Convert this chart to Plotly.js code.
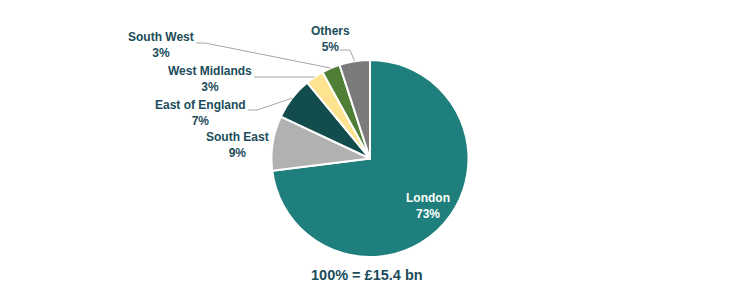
<!DOCTYPE html>
<html>
<head>
<meta charset="utf-8">
<script src="https://cdn.plot.ly/plotly-3.0.1.min.js"></script>
<style>html,body{margin:0;padding:0;background:#fff;}#chart{width:740px;height:288px;}</style>
</head>
<body>
<div id="chart"></div>
<script>
// Data
const regions = ["London", "South East", "East of England", "West Midlands", "South West", "Others"];
const shares = [73, 9, 7, 3, 3, 5];
const colors = ["#1e7f7c", "#b1b1b1", "#134c4c", "#fde28f", "#4f7f36", "#7b7b7b"];
const totalLabel = "100% = £15.4 bn";

// Layout geometry (pixels)
const W = 740, H = 288;
const M = {l: 0, r: 0, t: 60, b: 31};
const cx = (W - M.l - M.r) / 2 + M.l;
const plotH = H - M.t - M.b;
const R = plotH / 2;
const cy = M.t + R;
const px2x = x => (x - M.l) / (W - M.l - M.r);
const px2y = y => (H - M.b - y) / plotH;

const textColor = "#1b4c5a";
const font = {family: "Liberation Sans, Arial, sans-serif", size: 12, color: textColor};

// label placement (text centre, leader start, elbow) in pixels
const labelPos = {
  "London":          {x: 428, y: 206, inside: true},
  "South East":      {x: 237, y: 144.5},
  "East of England": {x: 200, y: 112.5, line: [[248, 110], [257, 110]]},
  "West Midlands":   {x: 210, y: 79,    line: [[254, 77], [303, 77]]},
  "South West":      {x: 161, y: 45.5,  line: [[196, 43], [205, 43]]},
  "Others":          {x: 330, y: 39,    line: [[340, 50], [350, 50]]}
};

const total = shares.reduce((a, b) => a + b, 0);
let cum = 0;
const annotations = [];
const shapes = [];
regions.forEach((name, i) => {
  const mid = (cum + shares[i] / 2) / total * 2 * Math.PI;
  cum += shares[i];
  const p = labelPos[name];
  annotations.push({
    x: px2x(p.x), y: px2y(p.y), xref: "paper", yref: "paper",
    text: "<b>" + name + "<br>" + shares[i] + "%</b>",
    showarrow: false, xanchor: "center", yanchor: "middle", align: "center",
    font: Object.assign({}, font, {color: p.inside ? "#ffffff" : textColor})
  });
  if (p.line) {
    const ex = cx + R * Math.sin(mid), ey = cy - R * Math.cos(mid);
    const pts = p.line.concat([[ex, ey]]);
    const path = pts.map((q, k) => (k ? "L" : "M") + px2x(q[0]) + "," + px2y(q[1])).join(" ");
    shapes.push({type: "path", xref: "paper", yref: "paper", path: path,
      line: {color: "#a6a6a6", width: 1}});
  }
});

annotations.push({
  x: px2x(367), y: px2y(275), xref: "paper", yref: "paper",
  text: "<b>" + totalLabel + "</b>", showarrow: false,
  xanchor: "center", yanchor: "middle",
  font: {family: "Liberation Sans, Arial, sans-serif", size: 14.5, color: textColor}
});

const trace = {
  type: "pie",
  labels: regions,
  values: shares,
  sort: false,
  direction: "clockwise",
  rotation: 0,
  textinfo: "none",
  hoverinfo: "none",
  marker: {colors: colors, line: {color: "#ffffff", width: 2}},
  domain: {x: [0, 1], y: [0, 1]},
  showlegend: false
};

Plotly.newPlot("chart", [trace], {
  width: W, height: H,
  margin: M,
  paper_bgcolor: "#ffffff",
  plot_bgcolor: "#ffffff",
  showlegend: false,
  annotations: annotations,
  shapes: shapes
}, {staticPlot: true, displayModeBar: false});
</script>
</body>
</html>
